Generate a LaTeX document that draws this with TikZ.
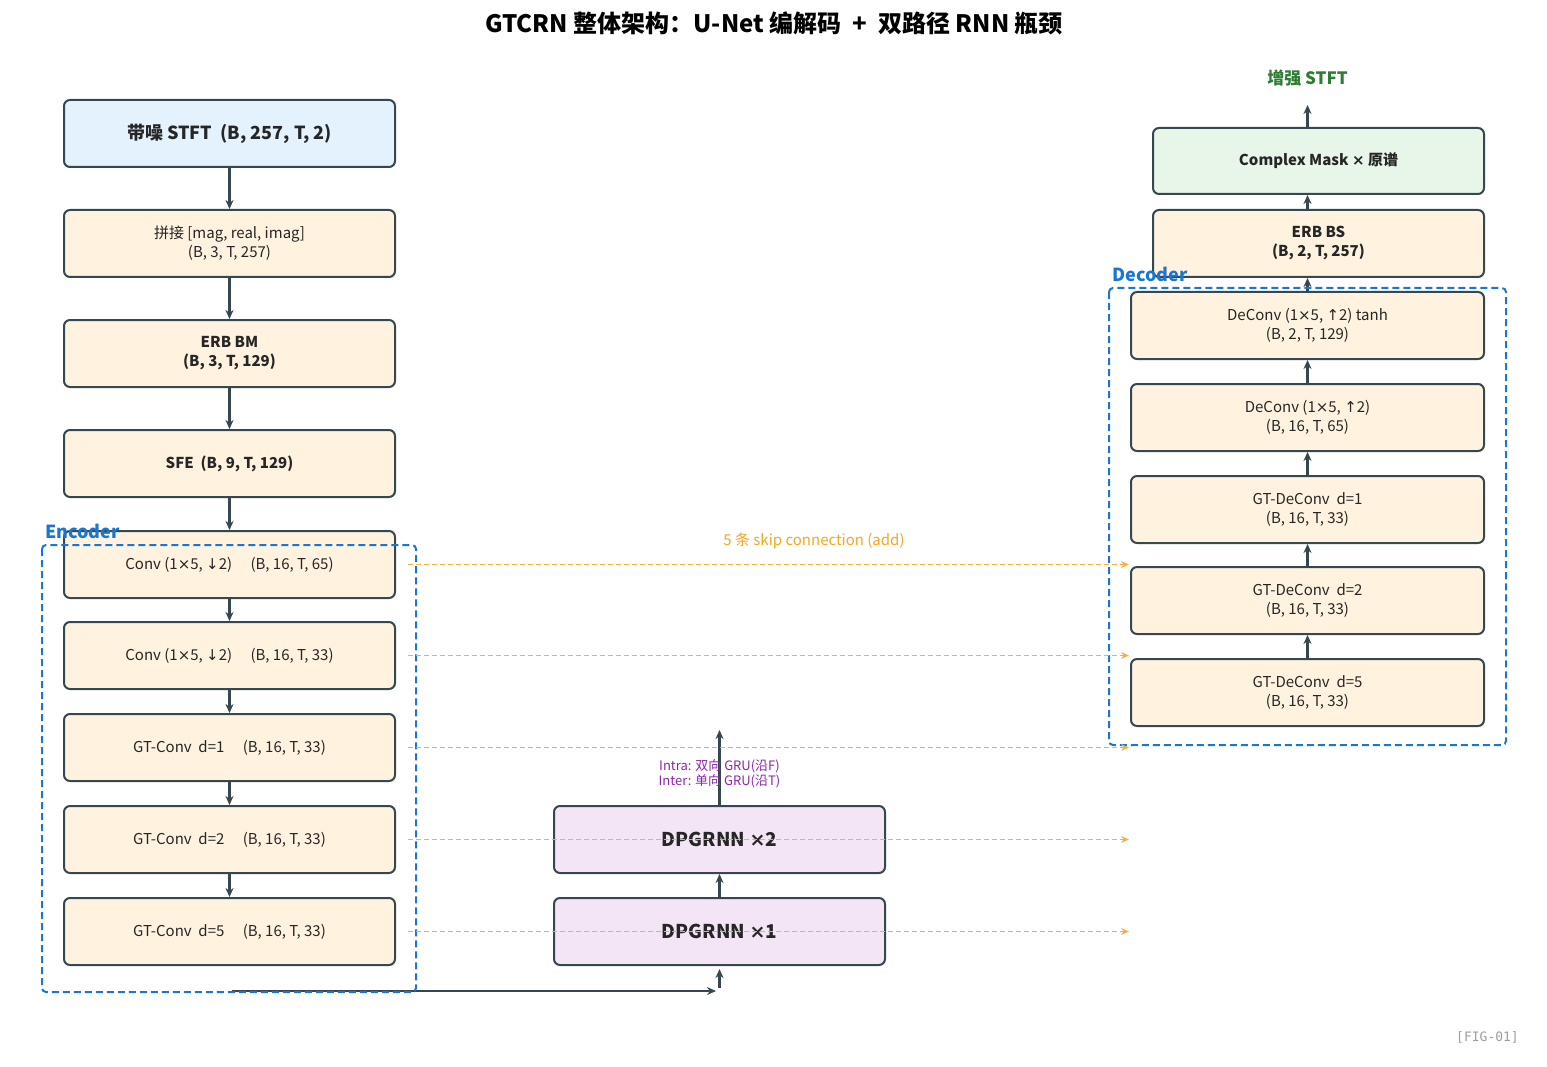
\documentclass[tikz,border=0pt]{standalone}
\usepackage{fontspec}
\setmainfont{Noto Sans CJK SC}
\newfontfamily\sym{DejaVu Sans}
\newfontfamily\figmono{DejaVu Sans Mono}
\newcommand\dn{{\sym ↓}}
\newcommand\up{{\sym ↑}}
\newcommand\tm{{\sym ×}}
\usetikzlibrary{arrows.meta}
\definecolor{bd}{HTML}{37474F}
\definecolor{fblue}{HTML}{E3F2FD}
\definecolor{forange}{HTML}{FFF3E0}
\definecolor{fpurple}{HTML}{F3E5F5}
\definecolor{fgreen}{HTML}{E8F5E9}
\definecolor{encblue}{HTML}{1976D2}
\definecolor{skipline}{HTML}{F7B040}
\definecolor{skiptext}{HTML}{F5A623}
\definecolor{gtext}{HTML}{2E7D32}
\definecolor{ptext}{HTML}{8E24AA}
\definecolor{figgray}{HTML}{9E9E9E}
\begin{document}
\begin{tikzpicture}[x=1pt,y=-1pt,
  box/.style={draw=bd, line width=2pt, rounded corners=6pt, minimum width=331pt, minimum height=67pt, inner sep=0pt, align=center, fill=forange, font=\fontsize{15}{19}\selectfont, text=black!85},
  wbox/.style={box, minimum width=353pt},
  arr/.style={draw=bd, line width=2.2pt, -{Stealth[length=9pt,width=8pt]}},
  skip/.style={draw=skipline, line width=1.7pt, dash pattern=on 5pt off 3pt, -{Stealth[length=8pt,width=7pt]}},
  grp/.style={draw=encblue, line width=2pt, dash pattern=on 7pt off 4pt, rounded corners=4pt},
  grplabel/.style={font=\bfseries\fontsize{18}{21}\selectfont, text=encblue, anchor=west, inner sep=0pt}
]
\useasboundingbox (0,0) rectangle (1547,1067);
\node[font=\bfseries\fontsize{24}{28}\selectfont] (title) at (774,23) {GTCRN 整体架构：U-Net 编解码\ \ +\ \ 双路径 RNN 瓶颈};

% left column
\node[box, fill=fblue, font=\bfseries\fontsize{18}{21}\selectfont] (inp) at (229.5,133.5) {带噪 STFT\ \ (B, 257, T, 2)};
\node[box] (cat) at (229.5,243.5) {拼接 [mag, real, imag]\\(B, 3, T, 257)};
\node[box, font=\bfseries\fontsize{15}{19}\selectfont] (erbbm) at (229.5,353.5) {ERB BM\\(B, 3, T, 129)};
\node[box, font=\bfseries\fontsize{15}{19}\selectfont] (sfe) at (229.5,463.5) {SFE\ \ (B, 9, T, 129)};
\node[box] (c1) at (229.5,564.5) {Conv (1\tm5, \dn2)\quad\ (B, 16, T, 65)};
\node[box] (c2) at (229.5,655.5) {Conv (1\tm5, \dn2)\quad\ (B, 16, T, 33)};
\node[box] (g1) at (229.5,747.5) {GT-Conv\ \ d=1\quad\ (B, 16, T, 33)};
\node[box] (g2) at (229.5,839.5) {GT-Conv\ \ d=2\quad\ (B, 16, T, 33)};
\node[box] (g5) at (229.5,931.5) {GT-Conv\ \ d=5\quad\ (B, 16, T, 33)};

\foreach \a/\b in {inp/cat,cat/erbbm,erbbm/sfe,sfe/c1,c1/c2,c2/g1,g1/g2,g2/g5}
  \draw[arr] (\a.south) -- (\b.north);

% bottleneck
\node[box, fill=fpurple, font=\bfseries\fontsize{19}{23}\selectfont] (dp1) at (719.5,931.5) {DPGRNN \tm1};
\node[box, fill=fpurple, font=\bfseries\fontsize{19}{23}\selectfont] (dp2) at (719.5,839.5) {DPGRNN \tm2};
\coordinate (bl) at (232,991);
\coordinate (br) at (716,991);
\coordinate (bup) at (719.5,988);
\coordinate (dptop) at (719.5,730);
\draw[arr] (bl) -- (br);
\draw[arr] (bup) -- ([yshift=-3pt]dp1.south);
\draw[arr] (dp1.north) -- (dp2.south);
\draw[arr] (dp2.north) -- (dptop);
\node[font=\fontsize{13}{15}\selectfont, text=ptext, align=center, inner sep=0pt] (gru) at (719.5,774) {Intra: 双向 GRU(沿F)\\Inter: 单向 GRU(沿T)};

% right column
\node[wbox] (dt) at (1307.5,325.5) {DeConv (1\tm5, \up2) tanh\\(B, 2, T, 129)};
\node[wbox] (dc) at (1307.5,417.5) {DeConv (1\tm5, \up2)\\(B, 16, T, 65)};
\node[wbox] (gd1) at (1307.5,509.5) {GT-DeConv\ \ d=1\\(B, 16, T, 33)};
\node[wbox] (gd2) at (1307.5,600.5) {GT-DeConv\ \ d=2\\(B, 16, T, 33)};
\node[wbox] (gd5) at (1307.5,692.5) {GT-DeConv\ \ d=5\\(B, 16, T, 33)};
\node[box, font=\bfseries\fontsize{15}{19}\selectfont] (erbbs) at (1318.5,243.5) {ERB BS\\(B, 2, T, 257)};
\node[box, fill=fgreen, minimum height=66pt, font=\bfseries\fontsize{15}{19}\selectfont] (cm) at (1318.5,161) {Complex Mask \tm\ 原谱};
\node[font=\bfseries\fontsize{17}{20}\selectfont, text=gtext] (out) at (1307.5,78) {增强 STFT};
\coordinate (outtip) at (1307.5,105);

\foreach \a/\b in {gd5/gd2,gd2/gd1,gd1/dc,dc/dt}
  \draw[arr] (\a.north) -- (\b.south);
\draw[arr] (dt.north) -- (dt.north |- erbbs.south);
\draw[arr] (dt.north |- erbbs.north) -- (dt.north |- cm.south);
\draw[arr] (dt.north |- cm.north) -- (outtip);

% groups (drawn over the boxes)
\draw[grp] (42,545) rectangle (416,992);
\node[grplabel] (enc) at (45,531) {Encoder};
\draw[grp] (1109,288) rectangle (1506,745);
\node[grplabel] (dec) at (1112,274) {Decoder};

% skip connections
\foreach \n in {c1,c2,g1,g2,g5}
  \draw[skip] ([xshift=12pt]\n.east) -- ++(721,0);
\node[font=\fontsize{15}{18}\selectfont, text=skiptext] (skl) at (814,541) {5 条 skip connection (add)};

\node[font=\figmono\fontsize{13}{15}\selectfont, text=figgray, anchor=east, inner sep=0pt] (fig) at (1519,1037) {[FIG-01]};
\end{tikzpicture}
\end{document}
